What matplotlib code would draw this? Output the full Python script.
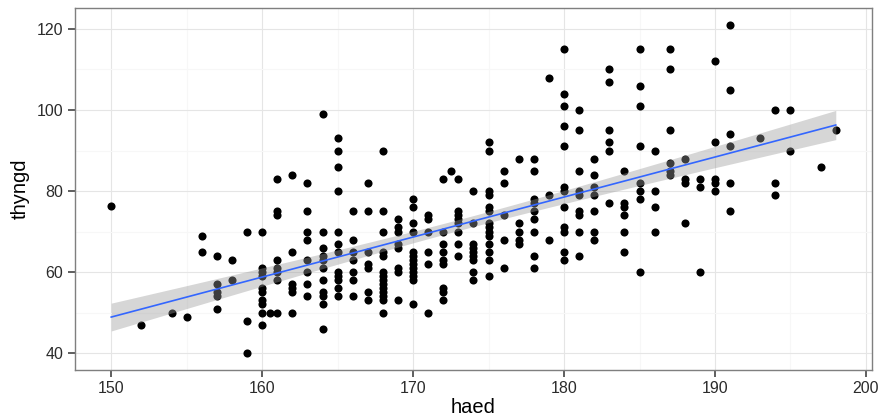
import numpy as np
import matplotlib.pyplot as plt

plt.rcParams['font.family'] = ['Liberation Sans', 'DejaVu Sans']

haed_levels = [150, 152, 154, 155, 156, 157, 158, 159, 160, 160.5,
               161, 162, 163, 164, 165, 166, 167, 168, 169, 170,
               171, 172, 172.5, 173, 174, 175, 176, 177, 178, 179,
               180, 181, 182, 183, 184, 185, 186, 187, 188, 189,
               190, 191, 193, 194, 195, 197, 198]
thyngd_groups = [
    [76.4], [47], [50], [49], [69, 65], [64, 57, 55, 54, 51], [63, 58],
    [70, 48, 40], [70, 61, 60, 59, 56, 55, 53, 52, 50, 47], [50],
    [83, 75, 74, 63, 61, 60, 58, 50],
    [84, 65, 57, 56, 55, 50],
    [82, 75, 70, 68, 63, 60, 57, 54],
    [99, 70, 66, 64, 63, 61, 58, 55, 54, 52, 46],
    [93, 90, 86, 80, 70, 67, 65, 60, 59, 58, 56, 54],
    [75, 68, 65, 63, 60, 58, 54],
    [82, 75, 65, 62, 61, 55, 53],
    [90, 75, 70, 65, 64, 60, 59, 58, 57, 56, 55, 54, 53, 50],
    [73, 71, 70, 67, 66, 61, 60, 53],
    [78, 76, 72, 70, 65, 64, 63, 62, 61, 60, 59, 58, 52],
    [74, 73, 70, 65, 62, 50],
    [83, 70, 67, 65, 63, 62, 56, 55, 53],
    [85],
    [83, 75, 74, 73, 72, 70, 67, 64],
    [80, 72, 67, 66, 65, 64, 63, 60, 58],
    [92, 90, 80, 79, 76, 75, 72, 71, 70, 69, 67, 65, 63, 59],
    [85, 82, 74, 68, 61],
    [88, 72, 70, 68, 67],
    [88, 85, 78, 77, 75, 73, 70, 64, 61],
    [108, 79, 68],
    [115, 104, 101, 96, 91, 81, 80, 76, 71, 70, 65, 63],
    [100, 95, 85, 80, 79, 75, 74, 70, 64],
    [88, 84, 81, 79, 75, 70, 68],
    [110, 107, 95, 92, 90, 77],
    [85, 77, 76, 74, 70, 65],
    [115, 106, 101, 91, 82, 80, 78, 60],
    [90, 80, 76, 70],
    [115, 110, 95, 87, 85, 84],
    [88, 83, 82, 72],
    [83, 81, 60],
    [112, 92, 83, 82, 80],
    [121, 105, 94, 91, 82, 75],
    [93], [100, 82, 79], [100, 90], [86], [95],
]

x = np.repeat(haed_levels, [len(g) for g in thyngd_groups])
y = np.concatenate([np.array(g, dtype=float) for g in thyngd_groups])

# linear fit with 95% confidence band
n = len(x)
slope, intercept = np.polyfit(x, y, 1)
resid = y - (intercept + slope * x)
s = np.sqrt(np.sum(resid ** 2) / (n - 2))
sxx = np.sum((x - x.mean()) ** 2)
xs = np.linspace(x.min(), x.max(), 100)
fit = intercept + slope * xs
se = s * np.sqrt(1.0 / n + (xs - x.mean()) ** 2 / sxx)
tval = 1.967

fig = plt.figure(figsize=(8.83, 4.2), dpi=100)
ax = fig.add_axes([75 / 883, 1 - 369.5 / 420, 797 / 883, 361 / 420])

ax.scatter(x, y, s=34, color='black', linewidths=0, zorder=3)
ax.fill_between(xs, fit - tval * se, fit + tval * se, color='#999999',
                alpha=0.4, linewidth=0, zorder=4)
ax.plot(xs, fit, color='#3366FF', lw=1.2, zorder=5)

xr = x.max() - x.min()
yr = y.max() - y.min()
ax.set_xlim(x.min() - 0.05 * xr, x.max() + 0.05 * xr)
ax.set_ylim(y.min() - 0.05 * yr, y.max() + 0.05 * yr)

ax.set_xticks([150, 160, 170, 180, 190, 200])
ax.set_yticks([40, 60, 80, 100, 120])
ax.set_xticks([155, 165, 175, 185, 195], minor=True)
ax.set_yticks([50, 70, 90, 110], minor=True)
ax.grid(which='major', color='#E5E5E5', lw=0.8, zorder=0)
ax.grid(which='minor', color='#F7F7F7', lw=0.8, zorder=0)
ax.set_axisbelow(True)

for sp in ax.spines.values():
    sp.set_color('#7F7F7F')
    sp.set_linewidth(1.0)

ax.tick_params(which='major', length=5, width=1.1, color='#333333',
               labelsize=11.5, labelcolor='#2B2B2B', pad=3.5)
ax.tick_params(which='minor', length=0)

ax.set_xlabel('haed', fontsize=14.5, labelpad=1)
ax.set_ylabel('thyngd', fontsize=14.5, labelpad=5)

fig.savefig('out.png', dpi=100)
